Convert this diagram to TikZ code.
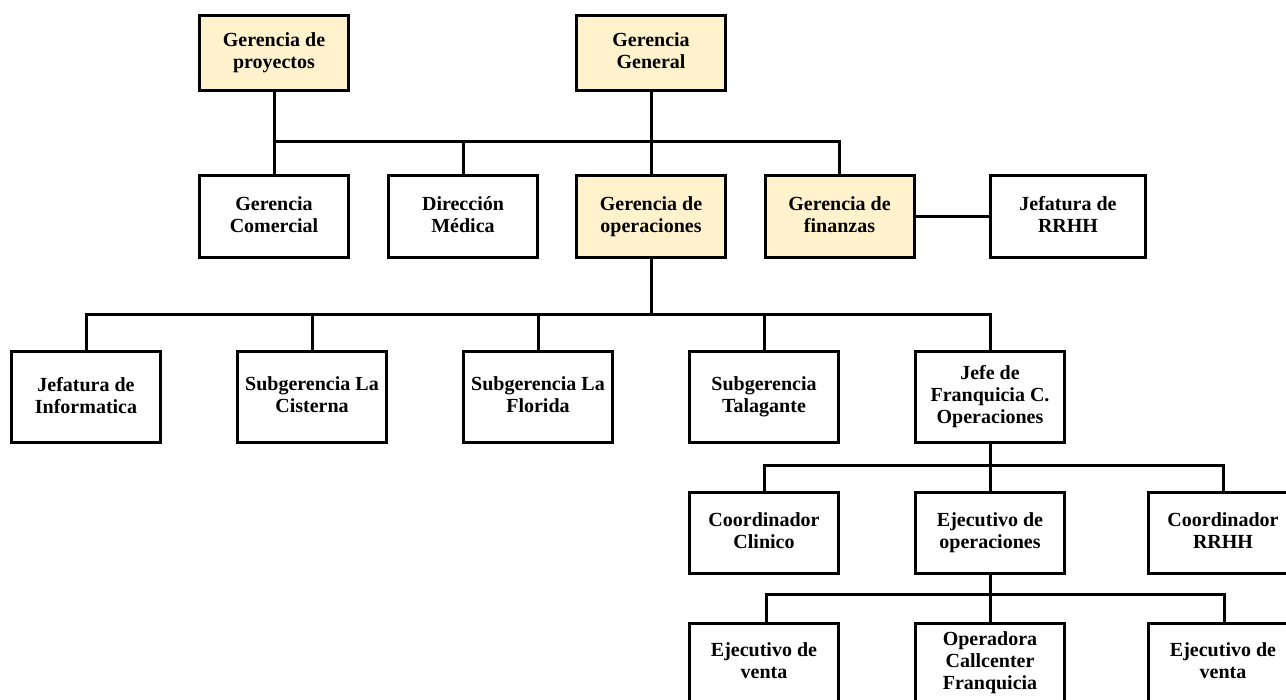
\documentclass[tikz,border=0pt]{standalone}
\usepackage{fontspec}
\setmainfont{Liberation Serif}
\definecolor{cream}{HTML}{FFF2CC}
\newcommand{\topgap}{\rule{0pt}{22pt}}
\newcommand{\botgap}{\rule[-4pt]{0pt}{4pt}}
\begin{document}
\begin{tikzpicture}[x=1pt,y=-1pt,
  box/.style={draw=black, line width=3pt, fill=white, minimum width=149pt,
    inner sep=0pt, align=center, text=black,
    font=\bfseries\fontsize{20}{22}\selectfont,
    execute at begin node=\topgap, execute at end node=\botgap},
  hl/.style={box, fill=cream},
  link/.style={draw=black, line width=3pt, line cap=rect, line join=miter}]
\useasboundingbox (0,0) rectangle (1286,700);
\clip (0,0) rectangle (1286,700);

% top level
\node[hl, minimum height=75pt] (proy) at (274,53) {Gerencia de\\proyectos};
\node[hl, minimum height=75pt] (gg)   at (651,53) {Gerencia\\General};

% second level
\node[box, minimum height=82pt] (com)  at (274,216.5)  {Gerencia\\Comercial};
\node[box, minimum height=82pt] (dir)  at (463,216.5)  {Dirección\\Médica};
\node[hl,  minimum height=82pt] (ops)  at (651,216.5)  {Gerencia de\\operaciones};
\node[hl,  minimum height=82pt] (fin)  at (839.5,216.5){Gerencia de\\finanzas};
\node[box, minimum height=82pt, minimum width=155pt] (rrhh) at (1068,216.5) {Jefatura de\\RRHH};

% third level
\node[box, minimum height=91pt] (inf) at (86,397)  {Jefatura de\\Informatica};
\node[box, minimum height=91pt] (cis) at (312,397) {Subgerencia La\\Cisterna};
\node[box, minimum height=91pt] (flo) at (538,397) {Subgerencia La\\Florida};
\node[box, minimum height=91pt] (tal) at (764,397) {Subgerencia\\Talagante};
\node[box, minimum height=91pt] (jef) at (990,397) {Jefe de\\Franquicia C.\\Operaciones};

% fourth level
\node[box, minimum height=81pt] (cli) at (764,533)  {Coordinador\\Clinico};
\node[box, minimum height=81pt] (eop) at (990,533)  {Ejecutivo de\\operaciones};
\node[box, minimum height=81pt] (crh) at (1223,533) {Coordinador\\RRHH};

% fifth level
\node[box, minimum height=79pt] (ev1) at (764,663)  {Ejecutivo de\\venta};
\node[box, minimum height=79pt] (opc) at (990,663)  {Operadora\\Callcenter\\Franquicia};
\node[box, minimum height=79pt] (ev2) at (1223,663) {Ejecutivo de\\venta};

% bus lines
\coordinate (bus1) at (0,142);
\coordinate (bus2) at (0,315);
\coordinate (bus3) at (0,466);
\coordinate (bus4) at (0,594);

% connectors, level 1 to 2
\draw[link] (proy.south) -- (com.north);
\draw[link] (gg.south) -- (ops.north);
\draw[link] (proy.south |- bus1) -| (fin.north);
\draw[link] (dir.north) -- (dir.north |- bus1);
\draw[link] (fin.east) -- (rrhh.west);

% level 2 to 3
\draw[link] (ops.south) -- (ops.south |- bus2);
\draw[link] (inf.north) |- (jef.north |- bus2) -- (jef.north);
\draw[link] (cis.north) -- (cis.north |- bus2);
\draw[link] (flo.north) -- (flo.north |- bus2);
\draw[link] (tal.north) -- (tal.north |- bus2);

% level 3 to 4
\draw[link] (jef.south) -- (eop.north);
\draw[link] (cli.north) |- (crh.north |- bus3) -- (crh.north);

% level 4 to 5
\draw[link] (eop.south) -- (opc.north);
\draw[link] ([xshift=2pt]ev1.north) |- ([xshift=1pt]ev2.north |- bus4) -- ([xshift=1pt]ev2.north);
\end{tikzpicture}
\end{document}
